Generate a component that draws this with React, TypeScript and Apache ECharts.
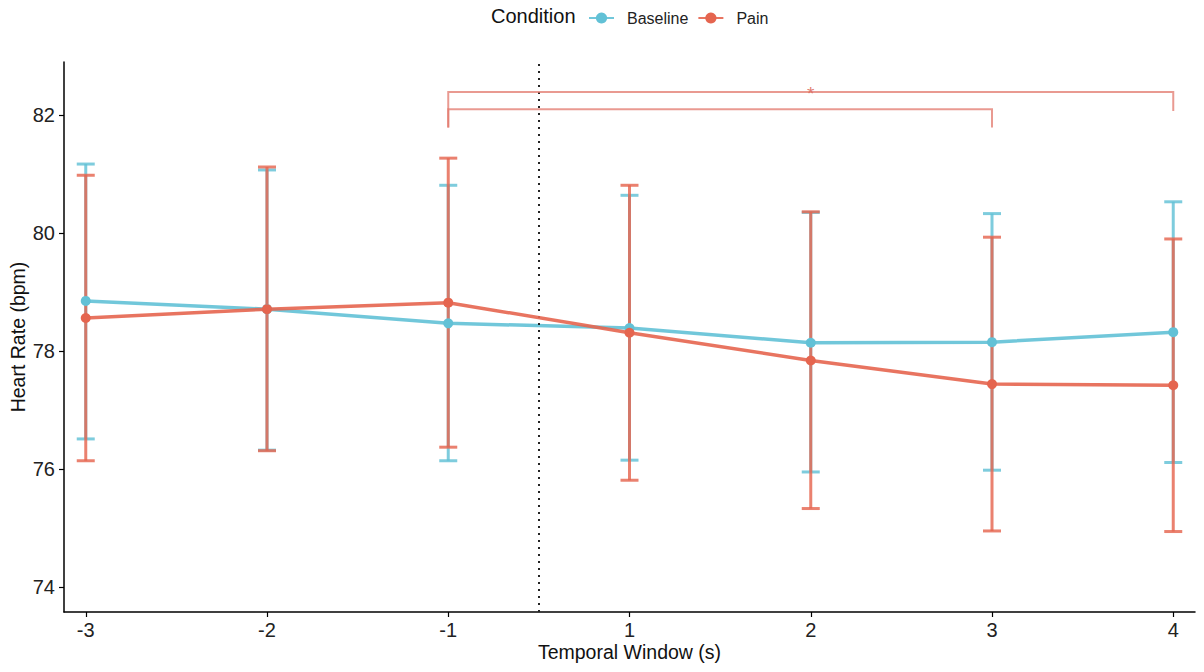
import React, { useEffect, useRef } from "react";
import * as echarts from "echarts";

const categories = ["-3", "-2", "-1", "1", "2", "3", "4"];
const tickIndex = [0, 1, 2, 3, 4, 5, 6];
const yTicks = [74, 76, 78, 80, 82];

const baselineMean = [78.85, 78.71, 78.47, 78.39, 78.14, 78.15, 78.32];
const baselineLow = [76.51, 76.32, 76.14, 76.15, 75.95, 75.98, 76.11];
const baselineHigh = [81.17, 81.07, 80.81, 80.64, 80.35, 80.33, 80.53];

const painMean = [78.56, 78.71, 78.82, 78.31, 77.84, 77.44, 77.42];
const painLow = [76.14, 76.31, 76.37, 75.81, 75.33, 74.95, 74.94];
const painHigh = [80.98, 81.12, 81.27, 80.81, 80.36, 79.93, 79.9];

// significance brackets: [fromIndex, toIndex, topY, leftEndY, rightEndY]
const bracketRows = [
  [2, 6, 82.39, 81.79, 82.07],
  [2, 5, 82.1, 81.79, 81.79],
];
const bracketLabels = ["*", ""];

const eventIndex = 2.5;

const BLUE = "#62C1D6";
const RED = "#E5654F";
const FONT = "Liberation Sans, Arial, Helvetica, sans-serif";

function errorSeries(name: string, low: number[], high: number[], color: string, z: number) {
  return {
    type: "custom",
    name: name + "-err",
    z,
    silent: true,
    encode: { x: 0, y: [1, 2] },
    data: categories.map((_, i) => [i, low[i], high[i]]),
    renderItem: (params: any, api: any) => {
      const x = api.value(0);
      const lo = api.coord([x, api.value(1)]);
      const hi = api.coord([x, api.value(2)]);
      const w = 9;
      const style = { stroke: color, lineWidth: 3, opacity: 0.82 };
      return {
        type: "group",
        children: [
          { type: "line", shape: { x1: lo[0], y1: lo[1], x2: hi[0], y2: hi[1] }, style },
          { type: "line", shape: { x1: hi[0] - w, y1: hi[1], x2: hi[0] + w, y2: hi[1] }, style },
          { type: "line", shape: { x1: lo[0] - w, y1: lo[1], x2: lo[0] + w, y2: lo[1] }, style },
        ],
      };
    },
  };
}

export default function App() {
  const ref = useRef<HTMLDivElement>(null);
  useEffect(() => {
    if (!ref.current) return;
    const chart = echarts.init(ref.current, null, { renderer: "svg" });
    const option: any = {
      animation: false,
      backgroundColor: "#ffffff",
      grid: { left: 64, right: 9, top: 62, bottom: 60, containLabel: false, outerBoundsMode: "none" },
      legend: {
        left: 583,
        top: 5,
        itemWidth: 25,
        itemHeight: 14,
        itemGap: 9,
        data: ["Baseline", "Pain"],
        textStyle: { fontSize: 16, color: "#222", fontFamily: FONT, padding: [0, 0, 0, 8] },
      },
      graphic: [
        {
          type: "text",
          left: 491,
          top: 6,
          style: { text: "Condition", fontSize: 20, fill: "#111", fontFamily: FONT },
        },
      ],
      xAxis: {
        type: "value",
        min: -0.12,
        max: 6.12,
        name: "Temporal Window (s)",
        nameLocation: "middle",
        nameGap: 30,
        nameMoveOverlap: false,
        nameTextStyle: { fontSize: 19.5, color: "#111", fontFamily: FONT },
        axisLine: { onZero: false, lineStyle: { color: "#000", width: 1.5 } },
        axisTick: { show: true, customValues: tickIndex, length: 5, lineStyle: { color: "#000", width: 1.2 } },
        axisLabel: {
          customValues: tickIndex,
          formatter: (v: number) => categories[Math.round(v)] ?? "",
          fontSize: 20,
          color: "#222",
          margin: 8,
          fontFamily: FONT,
        },
        splitLine: { show: false },
      },
      yAxis: {
        type: "value",
        min: 73.576,
        max: 82.9,
        name: "Heart Rate (bpm)",
        nameLocation: "middle",
        nameGap: 36,
        nameMoveOverlap: false,
        nameTextStyle: { fontSize: 19.5, color: "#111", fontFamily: FONT },
        axisLine: { show: true, onZero: false, lineStyle: { color: "#000", width: 1.5 } },
        axisTick: { show: true, customValues: yTicks, length: 5, lineStyle: { color: "#000", width: 1.2 } },
        axisLabel: {
          customValues: yTicks,
          fontSize: 20,
          color: "#222",
          margin: 9,
          fontFamily: FONT,
        },
        splitLine: { show: false },
      },
      series: [
        errorSeries("Baseline", baselineLow, baselineHigh, BLUE, 2),
        errorSeries("Pain", painLow, painHigh, RED, 3),
        {
          type: "line",
          name: "Baseline",
          z: 4,
          data: categories.map((_, i) => [i, baselineMean[i]]),
          symbol: "circle",
          symbolSize: 10,
          itemStyle: { color: BLUE },
          lineStyle: { color: BLUE, width: 3.5, opacity: 0.9 },
          markLine: {
            silent: true,
            symbol: "none",
            label: { show: false },
            lineStyle: { color: "#222", width: 2, type: [2, 5] },
            data: [{ xAxis: eventIndex }],
          },
        },
        {
          type: "line",
          name: "Pain",
          z: 5,
          data: categories.map((_, i) => [i, painMean[i]]),
          symbol: "circle",
          symbolSize: 10,
          itemStyle: { color: RED },
          lineStyle: { color: RED, width: 3.5, opacity: 0.9 },
        },
        {
          type: "custom",
          name: "brackets",
          z: 6,
          silent: true,
          encode: { x: [0, 1], y: [2, 3, 4] },
          data: bracketRows,
          renderItem: (params: any, api: any) => {
            const x1 = api.value(0);
            const x2 = api.value(1);
            const yt = api.value(2);
            const a = api.coord([x1, api.value(3)]);
            const b = api.coord([x1, yt]);
            const c = api.coord([x2, yt]);
            const d = api.coord([x2, api.value(4)]);
            const color = "rgba(226,120,108,0.75)";
            const children: any[] = [
              {
                type: "polyline",
                shape: { points: [a, b, c, d] },
                style: { stroke: color, lineWidth: 2, fill: null },
              },
            ];
            const lbl = bracketLabels[params.dataIndex];
            if (lbl) {
              const m = api.coord([(x1 + x2) / 2, yt]);
              children.push({
                type: "text",
                x: m[0],
                y: m[1] + 1,
                style: {
                  text: lbl,
                  fontSize: 19,
                  fill: "rgba(220,110,98,0.9)",
                  align: "center",
                  verticalAlign: "middle",
                  fontFamily: FONT,
                },
              });
            }
            return { type: "group", children };
          },
        },
      ],
    };
    chart.setOption(option);
    return () => chart.dispose();
  }, []);
  return (
    <div
      ref={ref}
      style={{ position: "fixed", left: 0, top: 0, width: 1204, height: 672, background: "#fff" }}
    />
  );
}
